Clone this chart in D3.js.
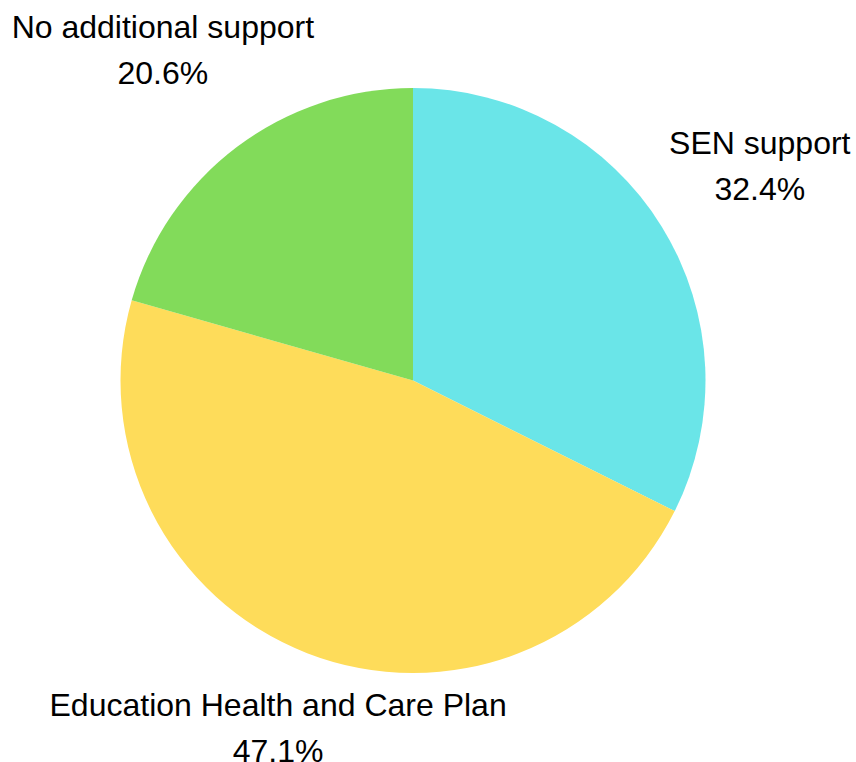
<!DOCTYPE html>
<html>
<head>
<meta charset="utf-8">
<script src="https://cdn.jsdelivr.net/npm/d3@7"></script>
<style>
  html, body { margin: 0; padding: 0; background: #ffffff; }
  svg { display: block; }
  text { font-family: "Liberation Sans", Arial, sans-serif; fill: #000; }
</style>
</head>
<body>
<svg id="chart" width="856" height="762"></svg>
<script>
// Pupils by level of special educational needs support
const categories = ["SEN support", "Education Health and Care Plan", "No additional support"];
const shares = [32.4, 47.1, 20.6];
const sliceColors = ["#6ae5e8", "#fedc5a", "#82db5a"];

const W = 856, H = 762;
const cx = 413, cy = 380.5, radius = 292.5;
const fontSize = 32, lineGap = 46, labelGap = 20.5;

const svg = d3.select("#chart");
const g = svg.append("g").attr("transform", `translate(${cx},${cy})`);

const data = categories.map((c, i) => ({ name: c, value: shares[i], color: sliceColors[i] }));

const pie = d3.pie().value(d => d.value).sort(null);
const arc = d3.arc().innerRadius(0).outerRadius(radius);
const arcs = pie(data);

g.selectAll("path.slice")
  .data(arcs)
  .join("path")
  .attr("class", "slice")
  .attr("d", arc)
  .attr("fill", d => d.data.color);

// Outside labels: slide each two-line block out along the slice's mid-angle
// until its box clears the pie by labelGap.
const capH = fontSize * 0.716;
const labels = g.selectAll("g.label")
  .data(arcs)
  .join("g")
  .attr("class", "label");

labels.append("text")
  .attr("text-anchor", "middle")
  .attr("font-size", fontSize)
  .attr("y", -lineGap / 2 + capH / 2)
  .text(d => d.data.name);

labels.append("text")
  .attr("text-anchor", "middle")
  .attr("font-size", fontSize)
  .attr("y", lineGap / 2 + capH / 2)
  .text(d => d.data.value.toFixed(1) + "%");

labels.each(function(d) {
  const node = d3.select(this);
  const texts = node.selectAll("text").nodes();
  const halfW = d3.max(texts, t => t.getComputedTextLength()) / 2;
  const halfH = (lineGap + capH) / 2;
  const mid = (d.startAngle + d.endAngle) / 2;
  const ux = Math.sin(mid), uy = -Math.cos(mid);
  const clearance = t => {
    const bx = Math.max(Math.abs(ux * t) - halfW, 0);
    const by = Math.max(Math.abs(uy * t) - halfH, 0);
    return Math.hypot(bx, by);
  };
  let lo = radius, hi = radius * 3;
  for (let k = 0; k < 60; k++) {
    const m = (lo + hi) / 2;
    if (clearance(m) < radius + labelGap) lo = m; else hi = m;
  }
  node.attr("transform", `translate(${ux * hi},${uy * hi})`);
});
</script>
</body>
</html>
